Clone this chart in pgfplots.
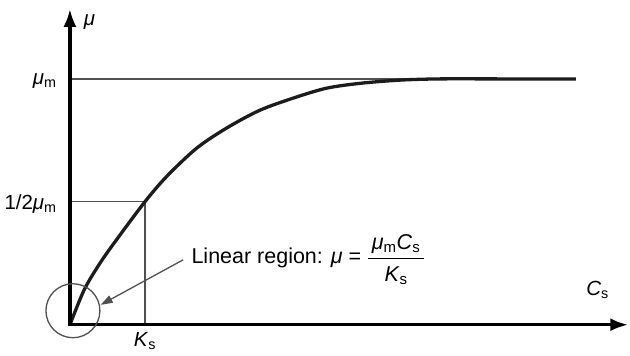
\documentclass[border=0pt]{standalone}
\usepackage{pgfplots}
\pgfplotsset{compat=1.18}
\usepackage{fontspec}
\setmainfont{Liberation Sans}
\usetikzlibrary{arrows.meta}
\definecolor{guidegray}{HTML}{505050}
\definecolor{curvecol}{HTML}{1C1C1C}
\newcommand{\mum}{\textit{μ}\textsubscript{m}}
\tikzset{lbl/.style={font=\fontsize{20.5}{24}\selectfont}}
\begin{document}
\begin{tikzpicture}
\begin{axis}[
  x=75pt, y=246pt,
  xmin=-0.933, xmax=7.467, ymin=-0.126, ymax=1.321,
  hide axis, clip=false,
]
% fixes the page to the plotting area
\path (axis cs:-0.933,-0.126) rectangle (axis cs:7.467,1.321);

% maximum rate and half-saturation guides
\draw[guidegray, line width=1.3pt] (axis cs:0,1) -- (axis cs:6.75,1);
\draw[guidegray, line width=1.3pt] (axis cs:0,0.5) -- (axis cs:1,0.5) -- (axis cs:1,0);

% Monod growth curve
\addplot[curvecol, line width=3.3pt, smooth, tension=0.5] coordinates {
  (0,0) (0.19,0.142) (0.4,0.25) (0.62,0.345) (1,0.5) (1.29,0.603)
  (1.69,0.718) (2.09,0.80) (2.53,0.872) (2.98,0.922) (3.42,0.962)
  (3.87,0.982) (4.4,0.995) (4.93,1.0) (5.8,1.0) (6.75,1.0)
};

% axes
\draw[black, line width=3.4pt, line join=miter,
  {Latex[length=18pt,width=13pt]}-{Latex[length=18pt,width=13pt]}]
  (axis cs:0,1.285) -- (axis cs:0,0) -- (axis cs:7.45,0);

% linear region marker
\draw[guidegray, line width=1.3pt] (axis cs:0.04,0.057) circle[radius=27pt];
\draw[guidegray, line width=1.3pt, -{Triangle[length=12pt,width=8pt]}]
  (axis cs:1.51,0.264) -- (axis cs:0.41,0.081);

% labels
\node[lbl, anchor=west] at (axis cs:0.14,1.23) {\textit{μ}};
\node[lbl, anchor=east] at (axis cs:-0.13,0.99) {\mum};
\node[lbl, anchor=east] at (axis cs:-0.13,0.49) {1/2\mum};
\node[lbl] at (axis cs:1,-0.065) {\textit{K}\textsubscript{s}};
\node[lbl] at (axis cs:7.04,0.142) {\textit{C}\textsubscript{s}};
\node[anchor=west, inner sep=0pt, font=\fontsize{21.5}{26}\selectfont] at (axis cs:1.62,0.265)
  {Linear region: \textit{μ} =\ $\displaystyle\frac{\mbox{\,\mum\textit{C}\textsubscript{s}\,}}{\mbox{\rule{0pt}{21pt}\textit{K}\textsubscript{s}}}$};
\end{axis}
\end{tikzpicture}
\end{document}
